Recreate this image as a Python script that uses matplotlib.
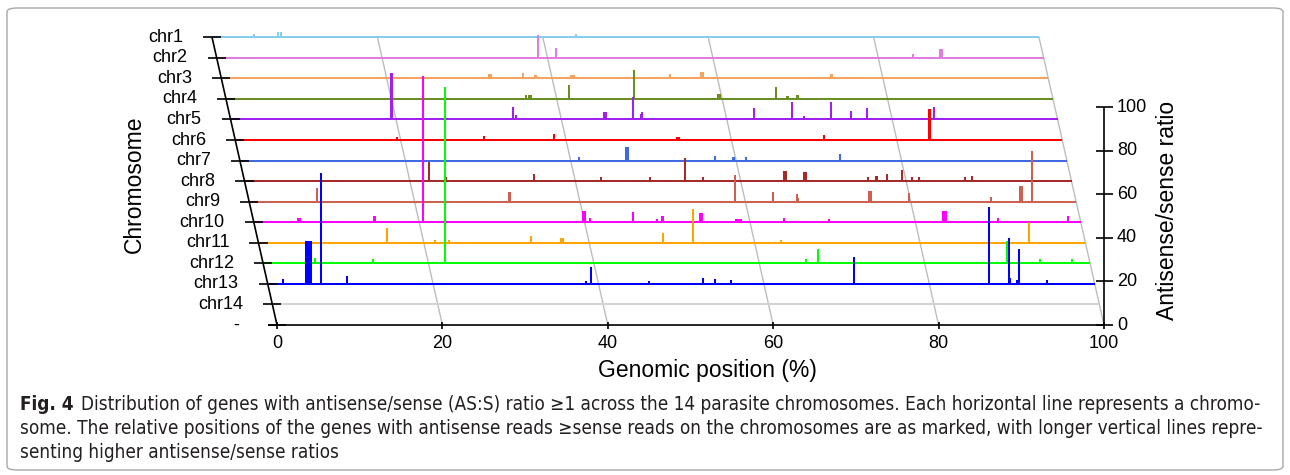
import matplotlib
matplotlib.use("Agg")
import matplotlib.pyplot as plt
from matplotlib import font_manager
from matplotlib.font_manager import FontProperties
from matplotlib.patches import FancyBboxPatch
import numpy as np

# ---------------- data ----------------
chrom_names = ["chr1", "chr2", "chr3", "chr4", "chr5", "chr6", "chr7",
               "chr8", "chr9", "chr10", "chr11", "chr12", "chr13", "chr14"]
chrom_colors = ["#87ceeb", "#e07ee0", "#f4a460", "#6b8e23", "#a020f0", "#ff0000",
                "#4169e1", "#a52a2a", "#cd6050", "#ff00ff", "#ffa500", "#00ff00",
                "#0000ff", "#d3d3d3"]

# genomic position (%) of genes with AS:S >= 1, one list per chromosome
gene_pos = [
    [5.1, 8.0, 8.3, 44.0],
    [38.8, 41.0, 84.2, 87.5, 87.7],
    [32.4, 32.6, 36.5, 37.9, 38.1, 42.3, 42.5, 42.7, 54.3, 58.0, 58.2, 73.7, 73.9],
    [36.3, 36.6, 36.9, 41.5, 49.3, 59.5, 59.7, 66.5, 67.8, 68.0, 69.0, 69.2],
    [19.35, 19.55, 34.2, 34.5, 45.2, 45.4, 48.6, 49.6, 49.8, 63.3, 67.9, 69.3,
     72.6, 75.0, 76.9, 85.1],
    [19.5, 30.1, 38.5, 53.4, 53.7, 71.2, 83.85, 84.0],
    [41.0, 46.7, 46.9, 57.4, 59.6, 59.8, 61.2, 72.6],
    [22.3, 24.2, 24.4, 35.0, 43.1, 49.0, 53.3, 55.4, 65.2, 65.5, 67.7, 67.9,
     75.4, 76.3, 76.5, 77.7, 79.5, 80.7, 81.6, 87.1, 88.0],
    [8.2, 31.4, 31.6, 58.7, 63.4, 66.2, 66.4, 75.0, 75.2, 79.8, 89.7, 93.2, 93.4, 94.6],
    [5.4, 5.6, 14.5, 14.7, 20.5, 39.8, 40.0, 40.7, 45.9, 48.8, 49.3, 49.5, 54.0,
     54.2, 58.3, 58.5, 58.7, 58.9, 64.1, 69.6, 83.3, 83.5, 83.7, 90.0, 98.4],
    [15.5, 21.4, 23.0, 33.0, 36.6, 36.8, 48.9, 52.6, 63.2, 93.2],
    [6.3, 13.3, 22.0, 65.6, 67.1, 90.0, 93.9, 97.8],
    [1.8, 4.6, 4.8, 5.0, 5.2, 6.4, 9.6, 38.5, 39.1, 46.1, 52.6, 54.1, 56.0, 70.9,
     87.2, 89.6, 89.8, 90.6, 90.9, 94.2],
    [],
]
# antisense/sense ratio of the same genes
gene_ratio = [
    [1.5, 2.6, 2.6, 1.5],
    [10.5, 4.4, 1.6, 4.2, 4.2],
    [1.9, 1.9, 2.3, 1.6, 1.6, 1.6, 1.6, 1.6, 1.9, 3.1, 3.1, 2.2, 2.2],
    [1.6, 1.6, 1.6, 6.4, 13.3, 2.1, 2.1, 5.5, 1.5, 1.5, 1.9, 1.9],
    [21.2, 21.2, 5.9, 2.0, 3.6, 3.6, 10.5, 2.5, 3.6, 5.1, 7.9, 1.6,
     7.9, 4.0, 5.1, 5.9],
    [1.5, 1.8, 2.6, 1.5, 1.5, 2.3, 14.1, 14.1],
    [1.5, 6.1, 6.1, 2.3, 1.8, 1.8, 1.6, 3.0],
    [9.0, 2.1, 2.1, 3.3, 2.1, 1.8, 10.8, 2.1, 4.8, 4.8, 4.1, 4.1,
     2.1, 2.5, 2.5, 3.3, 5.1, 1.8, 1.8, 2.1, 2.4],
    [6.1, 4.6, 4.6, 12.2, 4.3, 3.5, 1.8, 5.0, 5.0, 3.8, 2.0, 7.2, 7.2, 23.3],
    [1.8, 1.8, 3.0, 3.0, 67.2, 5.2, 5.2, 2.1, 4.9, 1.5, 2.9, 2.9, 4.4,
     4.4, 1.5, 1.5, 1.5, 1.5, 1.8, 1.4, 5.2, 5.2, 5.2, 2.1, 2.9],
    [6.6, 1.3, 1.3, 3.3, 2.0, 2.0, 4.3, 15.4, 1.1, 9.7],
    [2.3, 2.0, 81.0, 2.0, 6.6, 10.4, 2.0, 2.0],
    [2.1, 19.8, 19.8, 19.8, 19.8, 51.0, 3.8, 1.3, 7.6, 1.3, 2.6, 2.1, 1.8, 12.2,
     35.4, 20.9, 2.6, 1.8, 16.0, 1.8],
    [],
]
pos_ticks = [0, 20, 40, 60, 80, 100]
ratio_ticks = [0, 20, 40, 60, 80, 100]

caption_lines = [
    "Distribution of genes with antisense/sense (AS:S) ratio \u22651 across the 14 parasite "
    "chromosomes. Each horizontal line represents a chromo-",
    "some. The relative positions of the genes with antisense reads \u2265sense reads on the "
    "chromosomes are as marked, with longer vertical lines repre-",
    "senting higher antisense/sense ratios",
]

plt.rcParams['font.family'] = ['Liberation Sans', 'DejaVu Sans']

# ---------------- oblique "3d" view ----------------
W, H = 1290, 475
fig = plt.figure(figsize=(W / 100, H / 100), dpi=100)
ax = fig.add_axes([0, 0, 1, 1])
ax.set_axis_off()

X0, Y0 = 277.0, 325.0          # pixel of (0 %, front row, ratio 0)
PX_POS, PX_RATIO = 8.27, 2.18  # px per % and px per ratio unit
ROW_DX, ROW_DY = -4.64, 20.55  # px shift for each row further back
ax.set_xlim(-X0 / PX_POS, (W - X0) / PX_POS)
ax.set_ylim(-(H - Y0) / PX_RATIO, Y0 / PX_RATIO)
SX, SZ = ROW_DX / PX_POS, ROW_DY / PX_RATIO
NROW = len(chrom_names)


def proj(x, d, z):
    x, d, z = np.asarray(x, float), np.asarray(d, float), np.asarray(z, float)
    return x + d * SX, z + d * SZ


# slanted grid lines
for g in pos_ticks[1:]:
    xs, ys = proj([g, g], [0, NROW], [0, 0])
    ax.plot(xs, ys, color="#bdbdbd", lw=1.0, zorder=1)

# chromosome lines
for i, c in enumerate(chrom_colors):
    d = NROW - i
    xs, ys = proj([0, 100], [d, d], [0, 0])
    ax.plot(xs, ys, color=c, lw=1.45, zorder=2, solid_capstyle="butt")

# genes as vertical lines
for i, c in enumerate(chrom_colors):
    if not gene_pos[i]:
        continue
    d = NROW - i
    xb, yb = proj(gene_pos[i], d, 0)
    ax.vlines(xb, yb, yb + np.asarray(gene_ratio[i]), color=c, lw=1.45,
              zorder=3 + i * 0.01)

# axes
k = dict(color="black", lw=1.2, zorder=5, solid_capstyle="butt")
xs, ys = proj([0, 0], [0, NROW], [0, 0])
ax.plot(xs, ys, **k)
for d in range(NROW + 1):
    xs, ys = proj([-1.1, 1.1], [d, d], [0, 0])
    ax.plot(xs, ys, **k)
xs, ys = proj([-1.1, 100], [0, 0], [0, 0])
ax.plot(xs, ys, **k)
for g in pos_ticks:
    ax.plot([g, g], [-1.8, 1.5], **k)
ax.plot([100, 100], [0, 100], **k)
for v in ratio_ticks:
    ax.plot([99.0, 101.1], [v, v], **k)

# tick labels
for i, name in enumerate(chrom_names):
    ax.annotate(name, xy=proj(0, NROW - i, 0), xytext=(-29 * 0.72, 0),
                textcoords="offset points", ha="right", va="center", fontsize=13)
ax.annotate("-", xy=proj(0, 0, 0), xytext=(-38 * 0.72, 0),
            textcoords="offset points", ha="right", va="center", fontsize=13)
for g in pos_ticks:
    ax.annotate(str(g), xy=proj(g, 0, 0), xytext=(0, -10 * 0.72),
                textcoords="offset points", ha="center", va="top", fontsize=13)
for v in ratio_ticks:
    ax.annotate(str(v), xy=(100, v), xytext=(13 * 0.72, 0),
                textcoords="offset points", ha="left", va="center", fontsize=13)

fig.text(707 / W, 1 - 370 / H, "Genomic position (%)", ha="center", va="center",
         fontsize=16.5)
fig.text(1167 / W, 1 - 210 / H, "Antisense/sense ratio", ha="center", va="center",
         rotation=90, fontsize=16.5)
fig.text(134 / W, 1 - 184 / H, "Chromosome", ha="center", va="center",
         rotation=90, fontsize=16.5)

# ---------------- frame and caption ----------------
frame = FancyBboxPatch((7 / W, 1 - 470 / H), 1276 / W, 462 / H,
                       boxstyle="round,pad=0,rounding_size=0.008",
                       transform=fig.transFigure, fill=False,
                       edgecolor="#a8a8a8", lw=1.0)
fig.patches.append(frame)


def narrow_font(bold):
    # look for any condensed / narrow face that is installed
    narrow = ("condensed", "semi-condensed", "extra-condensed", "ultra-condensed")
    found = []
    for f in font_manager.fontManager.ttflist:
        is_bold = f.weight in (600, 700, 800, "bold", "semibold", "demibold")
        if f.style != "normal" or is_bold != bold:
            continue
        if "Narrow" in f.name or "Condensed" in f.name or f.stretch in narrow:
            rank = 0 if "Liberation" in f.name else 1
            found.append((rank, f.fname))
    if found:
        return FontProperties(fname=sorted(found)[0][1])
    return FontProperties(family=["Liberation Sans", "DejaVu Sans"],
                          weight="bold" if bold else "normal")


fp_reg, fp_bold = narrow_font(False), narrow_font(True)
base_y = [410, 434, 458]
renderer = fig.canvas.get_renderer()
cap_kw = dict(color="#231f20", va="baseline")

fig_lbl = fig.text(20 / W, 1 - base_y[0] / H, "Fig. 4", fontproperties=fp_bold.copy(), **cap_kw)
lines = [fig.text(20 / W, 1 - y / H, s, fontproperties=fp_reg.copy(), **cap_kw)
         for s, y in zip(caption_lines, base_y)]


def fit(size):
    for t in [fig_lbl] + lines:
        t.set_fontsize(size)
    xs0 = fig_lbl.get_window_extent(renderer).x1 + 7
    lines[0].set_x(xs0 / W)
    return xs0


size = 14.0
x_start = fit(size)
s1 = (1270 - x_start) / lines[0].get_window_extent(renderer).width
s2 = (1270 - 20) / lines[1].get_window_extent(renderer).width
size = min(size * min(s1, s2), 14.5)
fit(size)

fig.savefig("out.png", dpi=100)
